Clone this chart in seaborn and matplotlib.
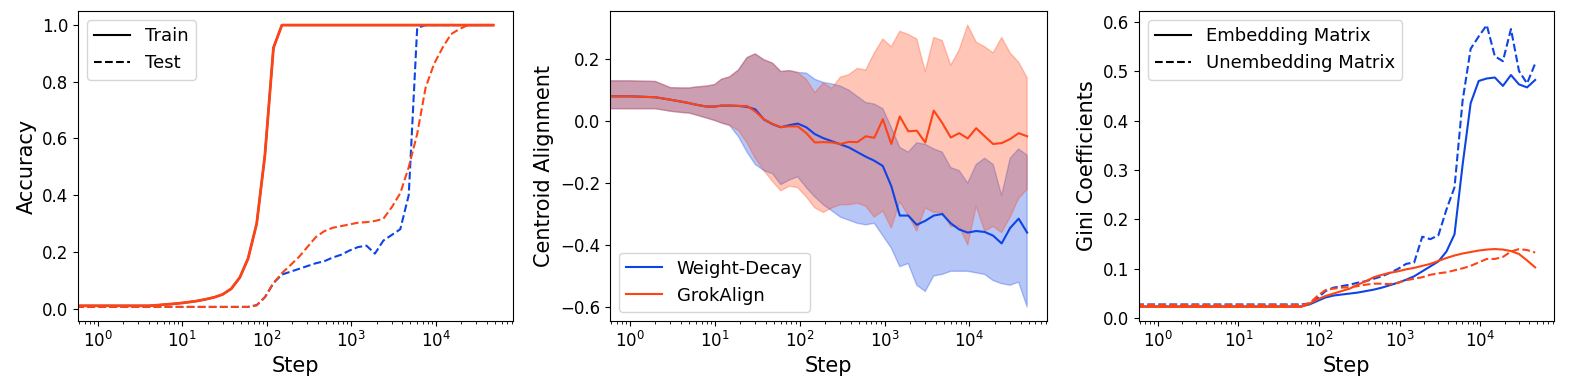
import matplotlib
matplotlib.use("Agg")
import matplotlib.pyplot as plt
import seaborn as sns
import pandas as pd
from matplotlib.lines import Line2D

# ---------------- data ----------------
steps = [0, 1, 2, 3, 4, 5, 6, 8, 10, 12, 15, 19, 24, 30, 38, 48, 60, 76, 95, 120,
         151, 190, 240, 302, 380, 478, 602, 758, 955, 1202, 1513, 1905, 2398, 3020,
         3802, 4786, 6026, 7586, 9550, 12023, 15136, 19055, 23988, 30200, 38019, 47863]

# Panel 1: accuracy
wd_train = [0.01, 0.01, 0.01, 0.01, 0.01, 0.012, 0.014, 0.017, 0.02, 0.023, 0.027, 0.033,
            0.04, 0.05, 0.07, 0.11, 0.176, 0.30, 0.54, 0.92, 1.0,
            1.0, 1.0, 1.0, 1.0, 1.0, 1.0, 1.0, 1.0, 1.0, 1.0, 1.0, 1.0, 1.0, 1.0, 1.0,
            1.0, 1.0, 1.0, 1.0, 1.0, 1.0, 1.0, 1.0, 1.0, 1.0]
ga_train = [0.01, 0.01, 0.01, 0.01, 0.01, 0.012, 0.014, 0.017, 0.02, 0.023, 0.027, 0.033,
            0.04, 0.05, 0.07, 0.11, 0.176, 0.30, 0.54, 0.92, 1.0,
            1.0, 1.0, 1.0, 1.0, 1.0, 1.0, 1.0, 1.0, 1.0, 1.0, 1.0, 1.0, 1.0, 1.0, 1.0,
            1.0, 1.0, 1.0, 1.0, 1.0, 1.0, 1.0, 1.0, 1.0, 1.0]
wd_test = [0.006, 0.006, 0.006, 0.006, 0.006, 0.006, 0.006, 0.006, 0.006, 0.006, 0.006,
           0.006, 0.006, 0.006, 0.006, 0.006, 0.006, 0.012, 0.04, 0.09, 0.12, 0.13, 0.14,
           0.15, 0.16, 0.167, 0.18, 0.19, 0.205, 0.217, 0.222, 0.194, 0.24, 0.26, 0.28,
           0.40, 0.99, 1.0, 1.0, 1.0, 1.0, 1.0, 1.0, 1.0, 1.0, 1.0]
ga_test = [0.006, 0.006, 0.006, 0.006, 0.006, 0.006, 0.006, 0.006, 0.006, 0.006, 0.006,
           0.006, 0.006, 0.006, 0.006, 0.006, 0.006, 0.012, 0.04, 0.09, 0.125, 0.153,
           0.182, 0.217, 0.252, 0.273, 0.285, 0.291, 0.297, 0.303, 0.305, 0.309, 0.317,
           0.358, 0.407, 0.499, 0.616, 0.78, 0.863, 0.92, 0.968, 0.986, 1.0, 1.0, 1.0, 1.0]

# Panel 2: centroid alignment (mean and band)
wd_mean = [0.08, 0.08, 0.077, 0.069, 0.063, 0.058, 0.053, 0.047, 0.047, 0.05, 0.05, 0.049,
           0.046, 0.038, 0.005, -0.01, -0.02, -0.013, -0.008, -0.02, -0.042, -0.055,
           -0.065, -0.075, -0.085, -0.1, -0.115, -0.128, -0.145, -0.21, -0.305, -0.305,
           -0.335, -0.322, -0.305, -0.3, -0.33, -0.35, -0.36, -0.355, -0.358, -0.37,
           -0.395, -0.345, -0.315, -0.36]
ga_mean = [0.08, 0.08, 0.077, 0.069, 0.063, 0.058, 0.053, 0.047, 0.047, 0.05, 0.05, 0.049,
           0.049, 0.031, 0.006, -0.009, -0.019, -0.017, -0.017, -0.039, -0.069, -0.068,
           -0.069, -0.074, -0.067, -0.068, -0.049, -0.054, 0.006, -0.074, 0.015, -0.033,
           -0.031, -0.069, 0.034, -0.006, -0.053, -0.039, -0.056, -0.023, -0.049, -0.074,
           -0.071, -0.058, -0.039, -0.049]
wd_upper = [0.13, 0.13, 0.128, 0.108, 0.107, 0.107, 0.11, 0.113, 0.118, 0.135, 0.143, 0.165,
            0.205, 0.217, 0.198, 0.187, 0.16, 0.163, 0.157, 0.155, 0.135, 0.125, 0.12,
            0.113, 0.1, 0.08, 0.06, 0.055, 0.04, -0.02, -0.085, -0.1, -0.07, -0.075, -0.09,
            -0.1, -0.15, -0.16, -0.2, -0.14, -0.12, -0.14, -0.24, -0.12, -0.09, -0.11]
wd_lower = [0.04, 0.04, 0.04, 0.032, 0.028, 0.026, 0.02, 0.01, 0.002, -0.006, -0.014, -0.05,
            -0.1, -0.14, -0.16, -0.17, -0.205, -0.19, -0.18, -0.215, -0.245, -0.27, -0.29,
            -0.31, -0.32, -0.33, -0.335, -0.33, -0.37, -0.41, -0.47, -0.46, -0.53, -0.55,
            -0.5, -0.495, -0.485, -0.485, -0.485, -0.49, -0.495, -0.515, -0.525, -0.53,
            -0.52, -0.6]
ga_upper = [0.13, 0.13, 0.128, 0.108, 0.107, 0.107, 0.11, 0.113, 0.118, 0.135, 0.143, 0.165,
            0.205, 0.217, 0.198, 0.187, 0.16, 0.163, 0.157, 0.135, 0.092, 0.123, 0.106,
            0.142, 0.15, 0.17, 0.165, 0.22, 0.265, 0.24, 0.29, 0.28, 0.265, 0.16, 0.27,
            0.26, 0.18, 0.23, 0.31, 0.255, 0.24, 0.22, 0.27, 0.22, 0.19, 0.14]
ga_lower = [0.04, 0.04, 0.04, 0.032, 0.028, 0.026, 0.02, 0.01, 0.002, -0.006, -0.014, -0.03,
            -0.07, -0.12, -0.16, -0.195, -0.225, -0.21, -0.215, -0.245, -0.28, -0.295,
            -0.28, -0.27, -0.27, -0.265, -0.275, -0.31, -0.29, -0.345, -0.26, -0.305,
            -0.355, -0.28, -0.295, -0.295, -0.34, -0.34, -0.4, -0.275, -0.355, -0.34,
            -0.36, -0.31, -0.25, -0.22]

# Panel 3: Gini coefficients
wd_emb = [0.024] * 0 + [0.024, 0.024, 0.024, 0.024, 0.024, 0.024, 0.024, 0.024, 0.024,
          0.024, 0.024, 0.024, 0.024, 0.024, 0.024, 0.024, 0.024, 0.028, 0.035, 0.042,
          0.046, 0.048, 0.05, 0.052, 0.055, 0.058, 0.062, 0.067, 0.072, 0.078, 0.085,
          0.095, 0.105, 0.115, 0.135, 0.17, 0.31, 0.435, 0.48, 0.485, 0.487, 0.47, 0.492,
          0.473, 0.467, 0.482]
wd_unemb = [0.028, 0.028, 0.028, 0.028, 0.028, 0.028, 0.028, 0.028, 0.028, 0.028, 0.028,
            0.028, 0.028, 0.028, 0.028, 0.028, 0.028, 0.03, 0.04, 0.055, 0.062, 0.065,
            0.068, 0.072, 0.075, 0.08, 0.085, 0.092, 0.1, 0.11, 0.113, 0.165, 0.16, 0.168,
            0.22, 0.265, 0.44, 0.545, 0.57, 0.593, 0.53, 0.52, 0.585, 0.5, 0.475, 0.515]
ga_emb = [0.023, 0.023, 0.023, 0.023, 0.023, 0.023, 0.023, 0.023, 0.023, 0.023, 0.023,
          0.023, 0.023, 0.023, 0.023, 0.023, 0.023, 0.03, 0.038, 0.045, 0.05, 0.055, 0.06,
          0.068, 0.075, 0.083, 0.088, 0.092, 0.095, 0.099, 0.102, 0.106, 0.11, 0.116,
          0.122, 0.127, 0.131, 0.134, 0.137, 0.139, 0.14, 0.139, 0.136, 0.13, 0.117, 0.103]
ga_unemb = [0.027, 0.027, 0.027, 0.027, 0.027, 0.027, 0.027, 0.027, 0.027, 0.027, 0.027,
            0.027, 0.027, 0.027, 0.027, 0.027, 0.027, 0.03, 0.045, 0.057, 0.06, 0.062,
            0.063, 0.065, 0.068, 0.07, 0.07, 0.069, 0.072, 0.077, 0.08, 0.083, 0.088,
            0.091, 0.093, 0.097, 0.101, 0.106, 0.113, 0.12, 0.12, 0.124, 0.135, 0.14,
            0.138, 0.133]

methods = ["Weight-Decay", "GrokAlign"]
BLUE = "#0d44e6"
ORANGE = "#ff4414"

# ---------------- figure ----------------
fig = plt.figure(figsize=(15.89, 3.9), dpi=100)
H = 390.0
W = 1589.0
bottom = (H - 321) / H
height = 310 / H
ax1 = fig.add_axes([78 / W, bottom, 435 / W, height])
ax2 = fig.add_axes([610 / W, bottom, 437 / W, height])
ax3 = fig.add_axes([1139 / W, bottom, 415 / W, height])

LABEL_FS = 15
TICK_FS = 12
LEG_FS = 13

# Panel 1
sns.lineplot(x=steps, y=wd_train, ax=ax1, color=BLUE, lw=1.5, legend=False)
sns.lineplot(x=steps, y=wd_test, ax=ax1, color=BLUE, lw=1.5, linestyle="--", legend=False)
sns.lineplot(x=steps, y=ga_train, ax=ax1, color=ORANGE, lw=2.0, legend=False)
sns.lineplot(x=steps, y=ga_test, ax=ax1, color=ORANGE, lw=1.5, linestyle="--", legend=False)
ax1.set_xscale("log")
ax1.set_ylabel("Accuracy", fontsize=LABEL_FS)
ax1.set_yticks([0.0, 0.2, 0.4, 0.6, 0.8, 1.0])
ax1.legend(handles=[Line2D([], [], color="black", lw=1.5, label="Train"),
                    Line2D([], [], color="black", lw=1.5, ls="--", label="Test")],
           loc="upper left", fontsize=LEG_FS)

# Panel 2
ax2.fill_between(steps, wd_lower, wd_upper, color=BLUE, alpha=0.3)
ax2.fill_between(steps, ga_lower, ga_upper, color=ORANGE, alpha=0.3)
sns.lineplot(x=steps, y=wd_mean, ax=ax2, color=BLUE, lw=1.5, legend=False)
sns.lineplot(x=steps, y=ga_mean, ax=ax2, color=ORANGE, lw=1.5, legend=False)
ax2.set_xscale("log")
ax2.set_ylabel("Centroid Alignment", fontsize=LABEL_FS)
ax2.set_yticks([-0.6, -0.4, -0.2, 0.0, 0.2])
ax2.legend(handles=[Line2D([], [], color=BLUE, lw=1.5, label=methods[0]),
                    Line2D([], [], color=ORANGE, lw=1.5, label=methods[1])],
           loc="lower left", fontsize=LEG_FS)

# Panel 3
sns.lineplot(x=steps, y=wd_emb, ax=ax3, color=BLUE, lw=1.5, legend=False)
sns.lineplot(x=steps, y=wd_unemb, ax=ax3, color=BLUE, lw=1.5, linestyle="--", legend=False)
sns.lineplot(x=steps, y=ga_emb, ax=ax3, color=ORANGE, lw=1.5, legend=False)
sns.lineplot(x=steps, y=ga_unemb, ax=ax3, color=ORANGE, lw=1.5, linestyle="--", legend=False)
ax3.set_xscale("log")
ax3.set_ylabel("Gini Coefficients", fontsize=LABEL_FS)
ax3.set_yticks([0.0, 0.1, 0.2, 0.3, 0.4, 0.5, 0.6])
ax3.legend(handles=[Line2D([], [], color="black", lw=1.5, label="Embedding Matrix"),
                    Line2D([], [], color="black", lw=1.5, ls="--", label="Unembedding Matrix")],
           loc="upper left", fontsize=LEG_FS)

for ax in (ax1, ax2, ax3):
    ax.set_xlabel("Step", fontsize=LABEL_FS)
    ax.tick_params(axis="both", which="major", labelsize=TICK_FS)
    ax.margins(x=0.05, y=0.05)

fig.savefig("out.png", dpi=100)
